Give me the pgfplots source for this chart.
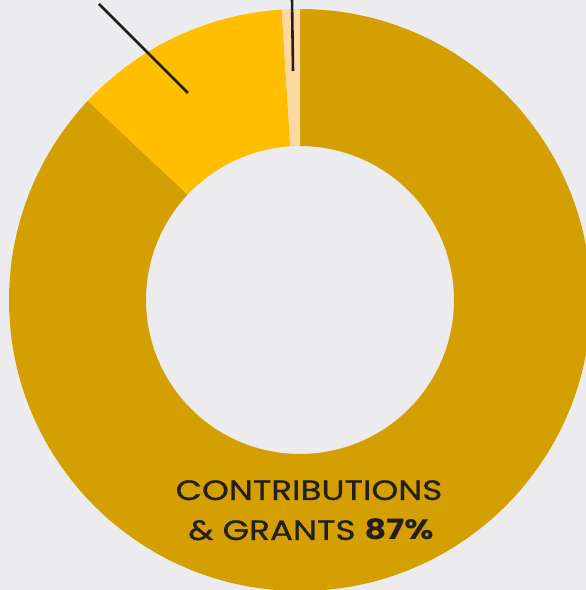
\documentclass[border=0pt]{standalone}
\usepackage{pgfplots}
\pgfplotsset{compat=1.18}
\usepackage{pgfplotstable}
\usetikzlibrary{calc}
\usepackage{fontspec}
\setmainfont{Poppins}
\newfontfamily\lblfont{Poppins}[FakeStretch=1.22, FakeBold=0.8]
\newfontfamily\lblbold{Poppins}[FakeStretch=1.2, BoldFont={* Bold}, UprightFont={* Bold}]
\definecolor{bg}{HTML}{ECEBEE}
\definecolor{cA}{HTML}{D49F00}
\definecolor{cB}{HTML}{FFBF00}
\definecolor{cC}{HTML}{FDD8A0}
\definecolor{txt}{HTML}{231F20}
\pgfplotstableread{
label value
contrib 87
other 12
small 1
}\piedata
\pgfplotstablegetelem{0}{value}\of\piedata \let\va\pgfplotsretval
\pgfplotstablegetelem{1}{value}\of\piedata \let\vb\pgfplotsretval
\pgfplotstablegetelem{2}{value}\of\piedata \let\vc\pgfplotsretval
\pgfmathsetmacro{\aA}{90}
\pgfmathsetmacro{\aB}{90-3.6*\va}
\pgfmathsetmacro{\aC}{\aB-3.6*\vb}
\pgfmathsetmacro{\aD}{\aC-3.6*\vc}
\def\Ro{291pt}
\def\Ri{154pt}
\newcommand{\slice}[3]{%
  \fill[#3] ($(axis cs:300,290)+(#1:\Ro)$) arc[start angle=#1, end angle=#2, radius=\Ro]
    -- ($(axis cs:300,290)+(#2:\Ri)$) arc[start angle=#2, end angle=#1, radius=\Ri] -- cycle;}
\begin{document}
\begin{tikzpicture}
\begin{axis}[
  x=1pt, y=1pt,
  xmin=0, xmax=586, ymin=0, ymax=590,
  hide axis, clip=true, clip mode=global,
]
\fill[bg] (axis cs:0,0) rectangle (axis cs:586,590);
\slice{\aA}{\aB}{cA}
\slice{\aB}{\aC}{cB}
\slice{\aC}{\aD}{cC}
\draw[draw=txt, line width=2.6pt] (axis cs:99,586) -- (axis cs:188,497);
\draw[draw=txt, line width=2.6pt] (axis cs:292,592) -- (axis cs:293,519);
\node[txt, font=\lblfont\fontsize{28}{40}\selectfont, anchor=base] at (axis cs:309,90) {CONTRIBUTIONS};
\node[txt, font=\lblfont\fontsize{28}{40}\selectfont, anchor=base] at (axis cs:311,50) {\& GRANTS {\lblbold 87\%}};
\end{axis}
\end{tikzpicture}
\end{document}
